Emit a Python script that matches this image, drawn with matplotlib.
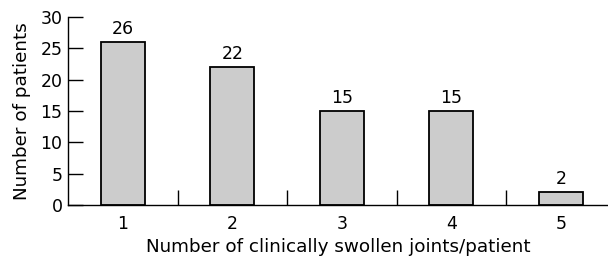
import numpy as np
import matplotlib
matplotlib.use("Agg")
import matplotlib.pyplot as plt

# swollen joints per patient
joints = [1, 2, 3, 4, 5]
patients = [26, 22, 15, 15, 2]
yticks = [0, 5, 10, 15, 20, 25, 30]

plt.rcParams['font.family'] = ['DejaVu Sans']

fig = plt.figure(figsize=(6.08, 2.59), dpi=100)
ax = fig.add_axes([0.1118, 0.2085, 0.8882, 0.7255])

bars = ax.bar(joints, patients, width=0.4, color='#cccccc',
              edgecolor='black', linewidth=1.3, zorder=2)
for b, v in zip(bars, patients):
    ax.annotate(str(v), (b.get_x() + b.get_width() / 2, v),
                xytext=(0, 3), textcoords='offset points',
                ha='center', va='bottom', fontsize=12.5)

ax.set_xlim(0.5, 5.43)
ax.set_ylim(0, 30)
ax.set_yticks(yticks)
ax.set_xticks(joints)
ax.set_xticks([1.5, 2.5, 3.5, 4.5], minor=True)

ax.tick_params(axis='y', direction='in', length=11, width=1, labelsize=12.5, pad=4)
ax.tick_params(axis='x', which='major', length=0, labelsize=12.5, pad=7)
ax.tick_params(axis='x', which='minor', direction='in', length=11, width=1)

for s in ['top', 'right']:
    ax.spines[s].set_visible(False)
for s in ['left', 'bottom']:
    ax.spines[s].set_linewidth(1)

ax.set_xlabel('Number of clinically swollen joints/patient', fontsize=13.2, labelpad=4)
ax.set_ylabel('Number of patients', fontsize=13.2, labelpad=7)

fig.savefig('out.png', dpi=100)
